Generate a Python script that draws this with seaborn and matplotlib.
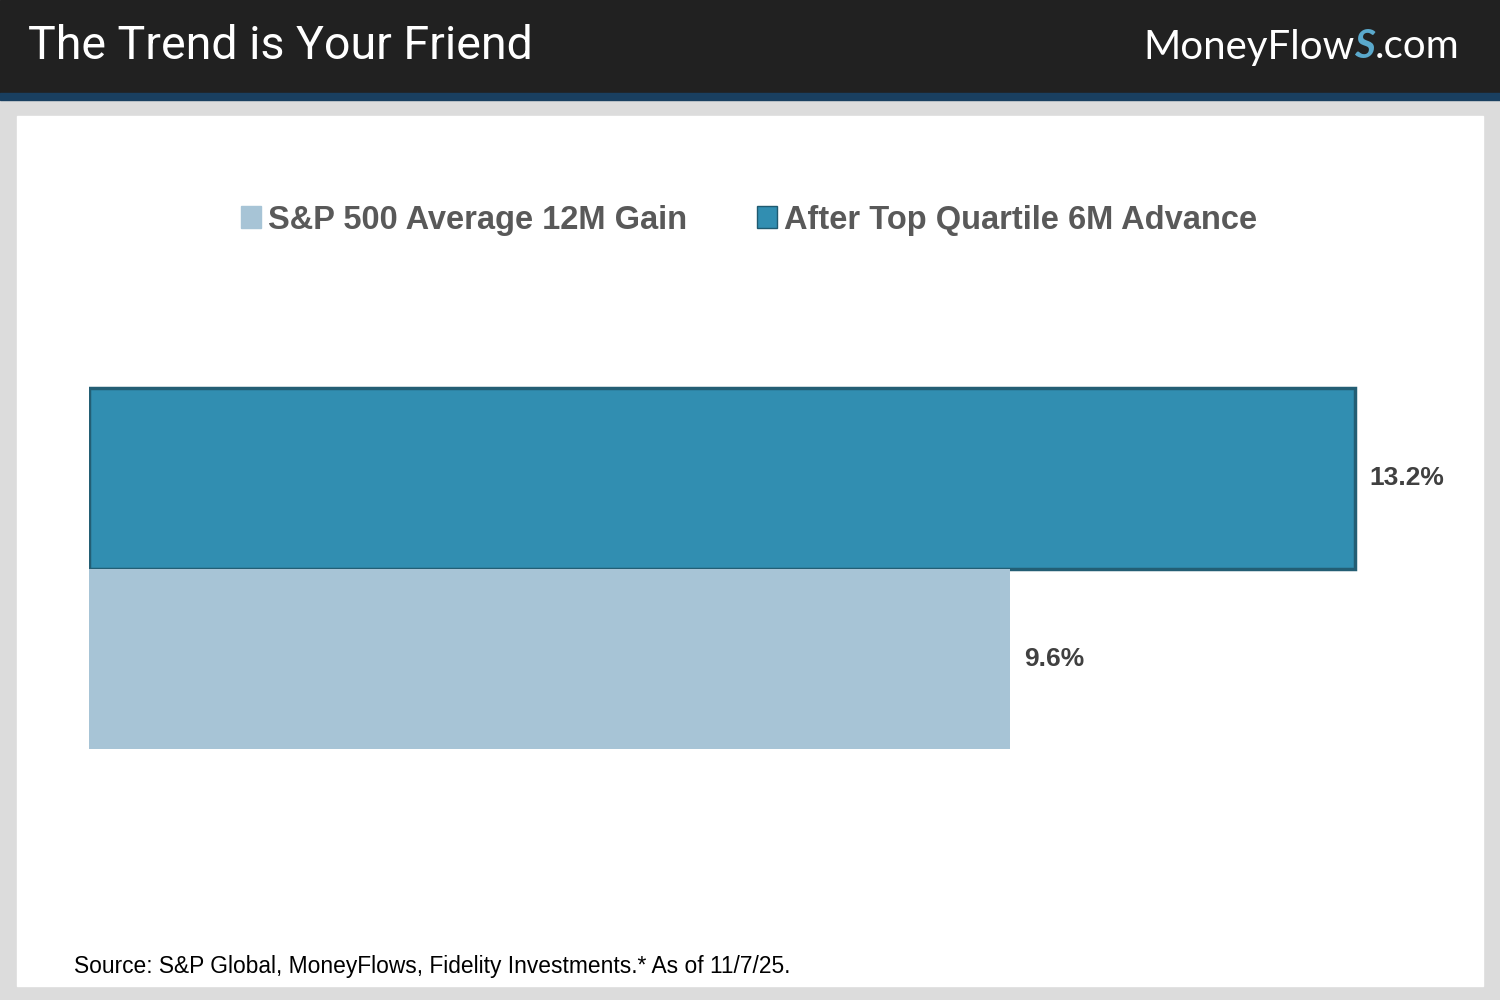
import numpy as np
import pandas as pd
import matplotlib.pyplot as plt
import matplotlib.patches as mpatches
import seaborn as sns

# data
series = ["After Top Quartile 6M Advance", "S&P 500 Average 12M Gain"]
values = [13.2, 9.6]
category = ["12M Gain", "12M Gain"]
legend_order = ["S&P 500 Average 12M Gain", "After Top Quartile 6M Advance"]
colors = {"After Top Quartile 6M Advance": "#318eb1", "S&P 500 Average 12M Gain": "#a7c4d6"}

df = pd.DataFrame({"cat": category, "series": series, "value": values})

sns.set_theme(style="white")
plt.rcParams["font.family"] = ["Liberation Sans", "DejaVu Sans"]

fig = plt.figure(figsize=(15, 10), dpi=100)
fig.patch.set_facecolor("#dcdcdc")

# header band + stripe + white panel
fig.add_artist(mpatches.Rectangle((0, 1 - 93 / 1000), 1, 93 / 1000, transform=fig.transFigure,
                                  color="#212121", zorder=0))
fig.add_artist(mpatches.Rectangle((0, 1 - 100 / 1000), 1, 7 / 1000, transform=fig.transFigure,
                                  color="#193f60", zorder=0))
fig.add_artist(mpatches.Rectangle((17 / 1500, 14 / 1000), 1466 / 1500, 870 / 1000,
                                  transform=fig.transFigure, color="white", zorder=0))

fig.text(28 / 1500, 1 - 46 / 1000, "The Trend is Your Friend", color="white", fontsize=33.5,
         family=["Roboto", "DejaVu Sans"], va="center", ha="left")

# logo text pieces placed one after another
renderer = fig.canvas.get_renderer()
x0 = 1143 / 1500
logo_y = 1 - 47 / 1000
pieces = [("MoneyFlow", "white", "normal", "normal"),
          ("S", "#5aa9cc", "italic", "bold"),
          (".com", "white", "normal", "normal")]
for txt, col, sty, wt in pieces:
    t = fig.text(x0, logo_y, txt, color=col, fontsize=29, style=sty, fontweight=wt,
                 family=["Lato", "DejaVu Sans"], va="center", ha="left")
    bb = t.get_window_extent(renderer=renderer)
    x0 += bb.width / 1500

# axes placed so x=0 sits at px 89 and 1 unit ~ 95.9 px
xmax = 14
ax = fig.add_axes([89 / 1500, 1 - 794 / 1000, xmax * 95.9 / 1500, 451 / 1000])
ax.set_facecolor("none")
sns.barplot(data=df, y="cat", x="value", hue="series", hue_order=series, orient="h",
            palette=colors, width=0.8, ax=ax, legend=False, saturation=1)

for bar, s in zip(ax.patches, series):
    if s == "After Top Quartile 6M Advance":
        bar.set_edgecolor("#235e74")
        bar.set_linewidth(2.5)
    else:
        bar.set_linewidth(0)

for bar, v in zip(ax.patches, values):
    ax.text(bar.get_width() + 0.15, bar.get_y() + bar.get_height() / 2, f"{v:.1f}%",
            va="center", ha="left", fontsize=19, fontweight="bold", color="#404040", clip_on=False)

ax.set_xlim(0, xmax)
ax.set_ylim(0.5, -0.5)
ax.set_xticks([])
ax.set_yticks([])
ax.set_xlabel("")
ax.set_ylabel("")
sns.despine(ax=ax, left=True, bottom=True)

handles = [mpatches.Patch(facecolor=colors[s], edgecolor=("#1f5a70" if s.startswith("After") else colors[s]),
                          label=s) for s in legend_order]
fig.legend(handles=handles, loc="center", bbox_to_anchor=(749 / 1500, 1 - 220 / 1000), ncol=2,
           frameon=False, handlelength=0.62, handleheight=0.62, handletextpad=0.2,
           columnspacing=2.15, labelcolor="#595959", prop={"weight": "bold", "size": 23.5})

fig.text(74 / 1500, 1 - 966 / 1000, "Source: S&P Global, MoneyFlows, Fidelity Investments.* As of 11/7/25.",
         fontsize=16.4, color="black", va="center", ha="left",
         family=["Liberation Sans Narrow", "Liberation Sans", "DejaVu Sans"])

fig.savefig("out.png", dpi=100, facecolor=fig.get_facecolor())
